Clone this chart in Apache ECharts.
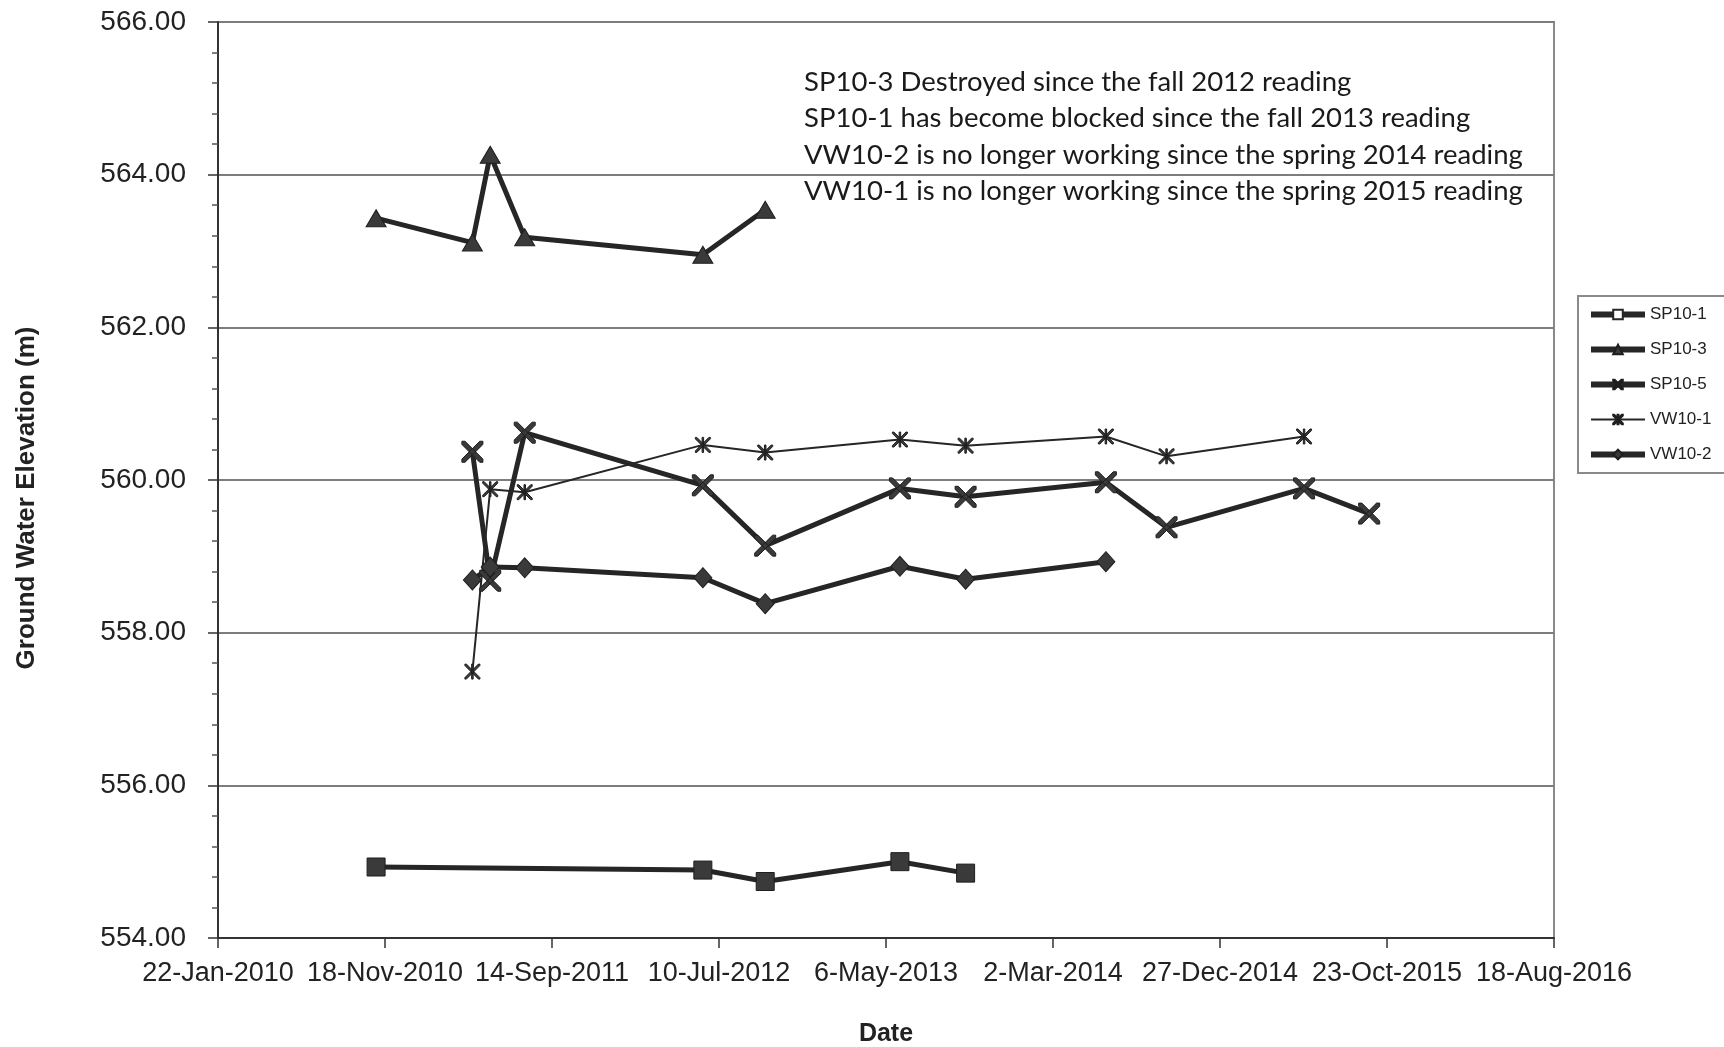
<!DOCTYPE html>
<html>
<head>
<meta charset="utf-8">
<title>Ground Water Elevation</title>
<script src="https://cdn.jsdelivr.net/npm/echarts@6/dist/echarts.min.js"></script>
<style>
  html, body { margin: 0; padding: 0; background: #fff; }
  #chart { width: 1724px; height: 1047px; }
</style>
</head>
<body>
<div id="chart"></div>
<script>
// reading dates (field visits)
const readingDates = [
  '2010-11-02', '2011-04-24', '2011-05-26', '2011-07-27', '2012-06-11', '2012-10-01',
  '2013-05-31', '2013-09-26', '2014-06-05', '2014-09-22', '2015-05-27', '2015-09-21'
]

// elevations (m), null = no reading
const sp10_1 = [554.93, null, null, null, 554.89, 554.74, 555.00, 554.85, null, null, null, null]
const sp10_3 = [563.43, 563.11, 564.26, 563.18, 562.95, 563.54, null, null, null, null, null, null]
const sp10_5 = [null, 560.37, 558.68, 560.62, 559.93, 559.14, 559.89, 559.78, 559.97, 559.38, 559.89, 559.56]
const vw10_1 = [null, 557.49, 559.88, 559.84, 560.46, 560.36, 560.53, 560.45, 560.57, 560.31, 560.57, null]
const vw10_2 = [null, 558.69, 558.86, 558.85, 558.72, 558.38, 558.87, 558.70, 558.93, null, null, null]

const notes = [
  'SP10-3 Destroyed since the fall 2012 reading',
  'SP10-1 has become blocked since the fall 2013 reading',
  'VW10-2 is no longer working since the spring 2014 reading',
  'VW10-1 is no longer working since the spring 2015 reading'
]

// x axis: excel style serial days, 300 day steps from 22-Jan-2010
const xMin = 40200
const xMax = 42600
const xStep = 300

const DAY = 86400000
const EPOCH = Date.UTC(1899, 11, 30)
const MONTHS = ['Jan', 'Feb', 'Mar', 'Apr', 'May', 'Jun', 'Jul', 'Aug', 'Sep', 'Oct', 'Nov', 'Dec']

function toSerial(s) {
  const p = s.split('-').map(Number)
  return Math.round((Date.UTC(p[0], p[1] - 1, p[2]) - EPOCH) / DAY)
}
function serialLabel(v) {
  const d = new Date(EPOCH + v * DAY)
  return d.getUTCDate() + '-' + MONTHS[d.getUTCMonth()] + '-' + d.getUTCFullYear()
}
function pairs(values) {
  return readingDates.map((d, i) => [toSerial(d), values[i]])
}

// marker shapes
const xMark = 'path://M0,0 L3,0 L20,17 L20,20 L17,20 L0,3 Z M17,0 L20,0 L20,3 L3,20 L0,20 L0,17 Z'
const starMark = 'path://M0,0 L2,0 L20,18 L20,20 L18,20 L0,2 Z M18,0 L20,0 L20,2 L2,20 L0,20 L0,18 Z M9,0 L11,0 L11,20 L9,20 Z'

const lineColor = '#262626'
const markColor = '#3a3a3a'

function makeSeries(name, values, symbol, size, width) {
  return {
    name: name,
    type: 'line',
    data: pairs(values),
    connectNulls: true,
    symbol: symbol,
    symbolSize: size,
    showAllSymbol: true,
    lineStyle: { color: lineColor, width: width },
    itemStyle: { color: markColor, borderColor: '#1e1e1e', borderWidth: 1 },
    emphasis: { disabled: true }
  }
}

const chart = echarts.init(document.getElementById('chart'))

chart.setOption({
  animation: false,
  backgroundColor: '#fff',
  textStyle: { fontFamily: 'Liberation Sans, Arial, sans-serif' },
  grid: {
    left: 218,
    right: 170,
    top: 22,
    bottom: 109,
    outerBoundsMode: 'none',
    show: true,
    borderColor: '#8a8a8a',
    borderWidth: 2
  },
  xAxis: {
    type: 'value',
    min: xMin,
    max: xMax,
    interval: xStep,
    name: 'Date',
    nameLocation: 'middle',
    nameGap: 84,
    nameTextStyle: { fontSize: 25, fontWeight: 'bold', color: '#222' },
    axisLine: { show: true, onZero: false, lineStyle: { color: '#333', width: 2 } },
    axisTick: { show: true, length: 10, lineStyle: { color: '#333', width: 1.5 } },
    axisLabel: { formatter: serialLabel, fontSize: 27, color: '#222', margin: 22 },
    splitLine: { show: false }
  },
  yAxis: {
    type: 'value',
    min: 554,
    max: 566,
    interval: 2,
    name: 'Ground Water Elevation (m)',
    nameLocation: 'middle',
    nameGap: 178,
    nameTextStyle: { fontSize: 26, fontWeight: 'bold', color: '#222', padding: [0, 36, 0, 0] },
    axisLine: { show: true, lineStyle: { color: '#333', width: 2 } },
    axisTick: { show: true, length: 10, lineStyle: { color: '#333', width: 1.5 } },
    minorTick: { show: true, splitNumber: 5, length: 6, lineStyle: { color: '#555', width: 1.5 } },
    axisLabel: { formatter: v => v.toFixed(2), fontSize: 28, color: '#222', margin: 32 },
    splitLine: { show: true, lineStyle: { color: '#7d7d7d', width: 2 } }
  },
  legend: {
    orient: 'vertical',
    left: 1578,
    top: 296,
    padding: [10, 14, 10, 10],
    itemWidth: 54,
    itemHeight: 12,
    itemGap: 18,
    borderColor: '#8a8a8a',
    borderWidth: 2,
    backgroundColor: '#fff',
    textStyle: { fontSize: 17, color: '#222' },
    data: [
      { name: 'SP10-1', lineStyle: { width: 6 }, itemStyle: { color: '#fff', borderColor: '#262626', borderWidth: 2 } },
      { name: 'SP10-3', lineStyle: { width: 6 } },
      { name: 'SP10-5', lineStyle: { width: 6 } },
      { name: 'VW10-1', lineStyle: { width: 2 } },
      { name: 'VW10-2', lineStyle: { width: 6 } }
    ]
  },
  // field notes in the upper part of the plot
  graphic: notes.map((t, i) => ({
    type: 'text',
    left: 804,
    top: 68 + i * 36.5,
    style: { text: t, font: '27.5px Lato, sans-serif', fill: '#1a1a1a' }
  })),
  series: [
    makeSeries('SP10-1', sp10_1, 'rect', 18, 5),
    makeSeries('SP10-3', sp10_3, 'triangle', [20, 17], 5),
    makeSeries('SP10-5', sp10_5, xMark, 21, 5),
    makeSeries('VW10-1', vw10_1, starMark, 15, 2),
    makeSeries('VW10-2', vw10_2, 'diamond', [18, 20], 5)
  ]
})
</script>
</body>
</html>
